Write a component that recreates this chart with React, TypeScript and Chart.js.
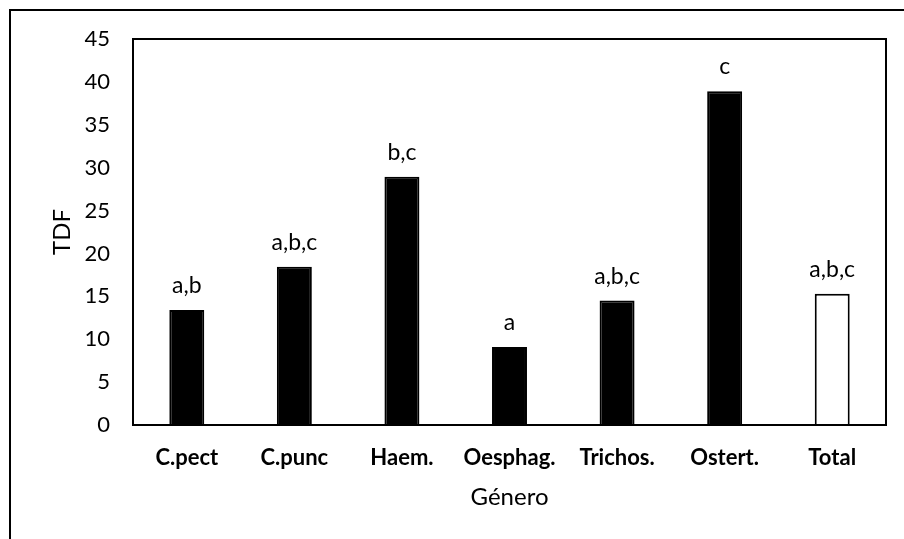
import React, { useEffect, useRef } from "react";
import { Chart, registerables } from "chart.js";

Chart.register(...registerables);

const categories = ["C.pect", "C.punc", "Haem.", "Oesphag.", "Trichos.", "Ostert.", "Total"];
const tdfValues = [13.4, 18.45, 28.95, 9.1, 14.5, 38.9, 15.3];
const letterLabels = ["a,b", "a,b,c", "b,c", "a", "a,b,c", "c", "a,b,c"];
const barColors = ["#000", "#000", "#000", "#000", "#000", "#000", "#fff"];
const yTicks = { min: 0, max: 45, step: 5 };

const FONT = "Lato, 'Open Sans', sans-serif";

const framePlugin = {
  id: "framePlugin",
  beforeDraw(chart: any) {
    const ctx = chart.ctx;
    ctx.save();
    ctx.fillStyle = "#fff";
    ctx.fillRect(0, 0, chart.width, chart.height);
    ctx.fillStyle = "#000";
    ctx.fillRect(9, 9, 2, chart.height);
    ctx.fillRect(9, 9, chart.width, 2);
    ctx.restore();
  },
  afterDatasetsDraw(chart: any) {
    const ctx = chart.ctx;
    const a = chart.chartArea;
    ctx.save();
    ctx.strokeStyle = "#000";
    ctx.lineWidth = 2;
    ctx.strokeRect(a.left, a.top, a.right - a.left, a.bottom - a.top);
    const meta = chart.getDatasetMeta(0);
    ctx.fillStyle = "#000";
    ctx.font = `23px ${FONT}`;
    ctx.textAlign = "center";
    ctx.textBaseline = "alphabetic";
    meta.data.forEach((bar: any, i: number) => {
      ctx.fillText(letterLabels[i], bar.x, bar.y - 17);
    });
    ctx.restore();
  },
};

export default function App() {
  const ref = useRef<HTMLCanvasElement>(null);
  useEffect(() => {
    if (!ref.current) return;
    const chart = new Chart(ref.current, {
      type: "bar",
      data: {
        labels: categories,
        datasets: [
          {
            data: tdfValues,
            backgroundColor: barColors,
            borderColor: "#000",
            borderWidth: 2,
            barPercentage: 0.325,
            categoryPercentage: 1,
          },
        ],
      },
      options: {
        animation: false,
        responsive: false,
        devicePixelRatio: 1,
        layout: { padding: { left: 48, top: 39, right: 18, bottom: 27 } },
        plugins: { legend: { display: false }, tooltip: { enabled: false } },
        scales: {
          x: {
            grid: { display: false, drawTicks: false },
            border: { display: false },
            ticks: {
              color: "#000",
              padding: 20,
              font: { family: FONT, size: 22, weight: "bold" },
            },
            title: {
              display: true,
              text: "Género",
              color: "#000",
              padding: 0,
              font: { family: FONT, size: 24 },
            },
            afterFit(scale: any) {
              scale.height = 87;
            },
          },
          y: {
            min: yTicks.min,
            max: yTicks.max,
            grid: { display: false, drawTicks: false },
            border: { display: false },
            ticks: {
              stepSize: yTicks.step,
              color: "#000",
              padding: 23,
              font: { family: FONT, size: 22 },
            },
            title: {
              display: true,
              text: "TDF",
              color: "#000",
              padding: 0,
              font: { family: FONT, size: 24 },
            },
            afterFit(scale: any) {
              scale.width = 85;
            },
          },
        },
      },
      plugins: [framePlugin],
    });
    return () => chart.destroy();
  }, []);
  return (
    <div style={{ position: "fixed", left: 0, top: 0, width: 904, height: 539 }}>
      <canvas ref={ref} width={904} height={539} style={{ display: "block" }} />
    </div>
  );
}
